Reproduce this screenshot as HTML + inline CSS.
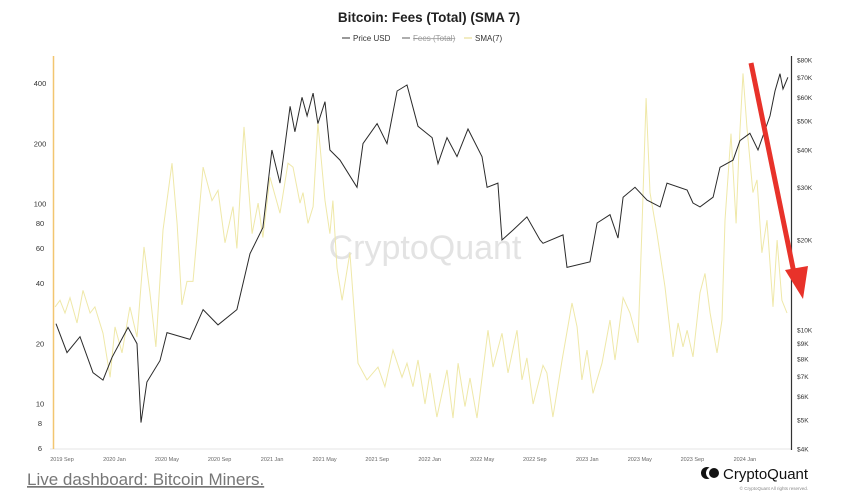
<!DOCTYPE html>
<html><head><meta charset="utf-8"><style>
body{margin:0;background:#fff;width:850px;height:498px;overflow:hidden;font-family:"Liberation Sans",sans-serif}
svg{position:absolute;left:0;top:0}
</style></head><body>
<svg width="850" height="498">
<text x="429" y="22" text-anchor="middle" font-size="13.5" font-weight="bold" fill="#222">Bitcoin: Fees (Total) (SMA 7)</text>
<g font-size="8">
<g><line x1="342" y1="38" x2="350" y2="38" stroke="#555" stroke-width="1.2"/><text x="353" y="41" fill="#333">Price USD</text></g>
<g><line x1="402" y1="38" x2="410" y2="38" stroke="#777" stroke-width="1.2"/><text x="413" y="41" fill="#999" text-decoration="line-through">Fees (Total)</text></g>
<g><line x1="464" y1="38" x2="472" y2="38" stroke="#e8e09a" stroke-width="1.2"/><text x="475" y="41" fill="#333">SMA(7)</text></g>
</g>
<text x="425" y="259" text-anchor="middle" font-size="34" fill="#e3e3e3">CryptoQuant</text>
<g id="axes"></g>
<g id="series"></g>
<g>
<line x1="751" y1="63" x2="795" y2="278" stroke="#e8322a" stroke-width="5"/>
<polygon points="785,270 808,266 803,299" fill="#e8322a"/>
</g>
<text x="27" y="485" font-size="17" fill="#777" text-decoration="underline">Live dashboard: Bitcoin Miners.</text>
<g>
<circle cx="707" cy="473" r="6" fill="#111"/><circle cx="712" cy="473" r="6" fill="#fff"/><circle cx="714" cy="473" r="5" fill="#111"/>
<text x="723" y="479" font-size="15" fill="#111">CryptoQuant</text>
<text x="808" y="490" text-anchor="end" font-size="4.5" fill="#888">© CryptoQuant All rights reserved.</text>
</g>
</svg>
<script>
const priceDates=[2019.629,2019.699,2019.781,2019.864,2019.927,2019.984,2020.086,2020.143,2020.168,2020.206,2020.289,2020.333,2020.479,2020.562,2020.657,2020.777,2020.860,2020.942,2020.999,2021.050,2021.114,2021.145,2021.190,2021.222,2021.260,2021.291,2021.336,2021.367,2021.431,2021.539,2021.577,2021.666,2021.729,2021.793,2021.856,2021.926,2022.015,2022.053,2022.110,2022.173,2022.243,2022.332,2022.364,2022.433,2022.459,2022.529,2022.617,2022.700,2022.719,2022.846,2022.871,2023.017,2023.062,2023.144,2023.195,2023.227,2023.303,2023.379,2023.462,2023.506,2023.633,2023.671,2023.715,2023.798,2023.842,2023.925,2023.969,2024.032,2024.083,2024.159,2024.191,2024.223,2024.242,2024.273];
const priceValues=[10500,8400,9500,7200,6800,8100,10200,9000,4900,6700,7900,9800,9300,11700,10400,11700,18000,22000,40000,31000,56000,46000,60000,52000,62000,49000,58000,40000,37000,30000,42000,49000,42000,63000,66000,48000,44000,36000,44000,38000,47000,38000,30000,31000,20000,21600,23900,20000,19500,20800,16200,16900,22800,24300,20300,27800,30000,27200,25800,31000,29400,26600,25800,27800,35000,37000,43000,45500,40000,52000,63000,72000,64000,70000];
const feeDates=[2019.623,2019.654,2019.686,2019.718,2019.762,2019.800,2019.845,2019.876,2019.927,2019.972,2020.003,2020.048,2020.098,2020.143,2020.187,2020.225,2020.263,2020.308,2020.365,2020.397,2020.428,2020.460,2020.498,2020.562,2020.619,2020.657,2020.701,2020.752,2020.777,2020.822,2020.873,2020.911,2020.942,2020.987,2021.050,2021.101,2021.133,2021.177,2021.196,2021.228,2021.260,2021.291,2021.336,2021.367,2021.386,2021.412,2021.444,2021.494,2021.545,2021.602,2021.672,2021.716,2021.767,2021.824,2021.856,2021.894,2021.926,2021.970,2022.002,2022.046,2022.110,2022.148,2022.180,2022.224,2022.256,2022.300,2022.370,2022.402,2022.459,2022.497,2022.554,2022.586,2022.617,2022.656,2022.719,2022.744,2022.782,2022.840,2022.903,2022.935,2022.966,2022.998,2023.036,2023.093,2023.144,2023.176,2023.227,2023.271,2023.322,2023.347,2023.373,2023.398,2023.442,2023.493,2023.544,2023.576,2023.607,2023.633,2023.671,2023.715,2023.747,2023.779,2023.823,2023.855,2023.874,2023.912,2023.944,2023.963,2023.988,2024.013,2024.051,2024.077,2024.108,2024.140,2024.178,2024.204,2024.235,2024.267];
const feeValues=[30.6,33,28.5,34,25.4,37,28.5,30.6,22.6,13.6,24.3,18,30.6,21.6,61,36,19.3,74,160,80,31.3,41,41,153,104,117,64,97,60,243,71,101,68,136,90,160,153,101,114,80,97,254,104,71,104,48,33,57,16,13.2,15.3,12.2,18.6,13.6,16,12.2,16.6,10,14.3,8.6,14.8,8.5,16,9.7,13.5,8.5,23.4,15.3,22.6,14.3,23.4,13.2,17,10,15.6,14.3,8.6,16.6,32,24.3,13.2,18.6,11.3,16,26.3,16.6,34,28.5,20.2,77,338,114,71,38.5,17.2,25.4,19.3,23.4,17.2,36,45,28.5,18,26.3,83,225,80,193,450,243,114,132,57,83,30.6,66,33,28.5];
const leftTicks=[400,200,100,80,60,40,20,10,8,6];
const rightTicks=[80000,70000,60000,50000,40000,30000,20000,10000,9000,8000,7000,6000,5000,4000];
const rightTickLabels=["$80K","$70K","$60K","$50K","$40K","$30K","$20K","$10K","$9K","$8K","$7K","$6K","$5K","$4K"];
const xTickLabels=["2019 Sep","2020 Jan","2020 May","2020 Sep","2021 Jan","2021 May","2021 Sep","2022 Jan","2022 May","2022 Sep","2023 Jan","2023 May","2023 Sep","2024 Jan"];
const xTickDates=[2019.667,2020.0,2020.333,2020.667,2021.0,2021.333,2021.667,2022.0,2022.333,2022.667,2023.0,2023.333,2023.667,2024.0];

const NS="http://www.w3.org/2000/svg";
const xS=t=>62+(t-2019.667)/0.006345;
const yL=v=>404-200*Math.log10(v/10);
const yR=v=>330-299*Math.log10(v/10000);
function mk(tag,at,parent){const e=document.createElementNS(NS,tag);for(const k in at)e.setAttribute(k,at[k]);parent.appendChild(e);return e;}
const ax=document.getElementById('axes'), se=document.getElementById('series');

let l=mk('line',{x1:50,y1:449,x2:791,y2:449,stroke:'#e6e6e6','stroke-width':1},ax);


l=mk('line',{x1:53.5,y1:56,x2:53.5,y2:449,stroke:'#f2c670','stroke-width':1.5},ax);


l=mk('line',{x1:791.5,y1:56,x2:791.5,y2:450,stroke:'#333','stroke-width':1.2},ax);



leftTicks.forEach(v=>{const t=mk('text',{x:40,y:yL(v)+2.5,'font-size':7.5,'text-anchor':'middle',fill:'#333'},ax);t.textContent=v;

});
rightTicks.forEach((v,i)=>{const t=mk('text',{x:797,y:yR(v)+2.5,'font-size':6.5,fill:'#333'},ax);t.textContent=rightTickLabels[i];

});
xTickDates.forEach((d,i)=>{const t=mk('text',{x:xS(d),y:461,'font-size':5.5,'text-anchor':'middle',fill:'#666'},ax);t.textContent=xTickLabels[i];

});

let p=mk('path',{d:feeDates.map((d,i)=>(i?'L':'M')+xS(d).toFixed(1)+','+yL(feeValues[i]).toFixed(1)).join(''),fill:'none',stroke:'#efe8a8','stroke-width':1},se);


p=mk('path',{d:priceDates.map((d,i)=>(i?'L':'M')+xS(d).toFixed(1)+','+yR(priceValues[i]).toFixed(1)).join(''),fill:'none',stroke:'#2a2a2a','stroke-width':1},se);


</script>
</body></html>
